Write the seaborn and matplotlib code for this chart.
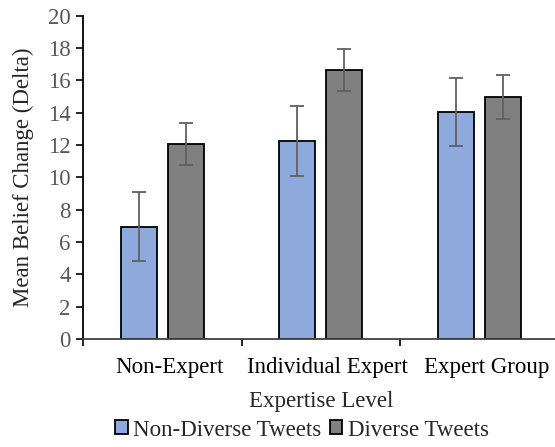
import numpy as np
import pandas as pd

import matplotlib
matplotlib.use("Agg")
import matplotlib.pyplot as plt
import matplotlib.transforms as mtransforms
import seaborn as sns

#####################################
### DATA
#####################################
levels = ["Non-Expert", "Individual Expert", "Expert Group"]
groups = ["Non-Diverse Tweets", "Diverse Tweets"]

non_diverse_mean = [6.95, 12.25, 14.05]
non_diverse_err = [2.15, 2.15, 2.12]
diverse_mean = [12.08, 16.65, 14.97]
diverse_err = [1.31, 1.30, 1.35]

y_ticks = [0, 2, 4, 6, 8, 10, 12, 14, 16, 18, 20]

df = pd.DataFrame({
    "Level": levels * 2,
    "Group": [groups[0]] * 3 + [groups[1]] * 3,
    "Delta": non_diverse_mean + diverse_mean,
})
errs = [non_diverse_err, diverse_err]

#####################################
### PLOT
#####################################
sns.set_style("white")
plt.rcParams["font.family"] = ["Liberation Serif", "DejaVu Serif"]

fs = 16.5
fig = plt.figure(figsize=(5.55, 4.47), dpi=100)
ax = fig.add_axes([83 / 555, 108 / 447, 475.5 / 555, 323.3 / 447])

sns.barplot(
    data=df, x="Level", y="Delta", hue="Group",
    order=levels, hue_order=groups,
    palette=["#8EA9DB", "#808080"], saturation=1,
    width=0.59, gap=0.23,
    edgecolor="black", linewidth=1.3,
    legend=False, ax=ax,
)

# error bars on top of each bar
for cont, err in zip(ax.containers, errs):
    xs = [p.get_x() + p.get_width() / 2 for p in cont.patches]
    hs = [p.get_height() for p in cont.patches]
    ax.errorbar(xs, hs, yerr=err, fmt="none", ecolor="#606060",
                elinewidth=1.3, capsize=4.7, capthick=1.3, zorder=5)

ax.set_xlim(-0.5, 2.5)
ax.set_ylim(0, 20)
ax.set_yticks(y_ticks)
ax.set_yticklabels([str(t) for t in y_ticks], color="#595959", fontsize=fs)

# ticks at group boundaries, labels at centres
ax.set_xticks([-0.5, 0.5, 1.5, 2.5])
ax.set_xticklabels([])
ax.set_xticks([0, 1, 2], minor=True)
ax.set_xticklabels(levels, minor=True, fontsize=fs, color="black")
ax.tick_params(axis="x", which="minor", length=0, pad=13)
ax.tick_params(axis="x", which="major", length=5, width=1.2, color="black", direction="out", bottom=True)
ax.tick_params(axis="y", length=5, width=1.2, color="black", direction="out", left=True, pad=4)

# Excel puts the category labels a little right of centre
shift = mtransforms.ScaledTranslation(7 / 100, 0, fig.dpi_scale_trans)
for lab in ax.get_xticklabels(minor=True):
    lab.set_transform(lab.get_transform() + shift)

for s in ["top", "right"]:
    ax.spines[s].set_visible(False)
ax.spines["left"].set_color("black")
ax.spines["left"].set_linewidth(1.3)
ax.spines["bottom"].set_color("#404040")
ax.spines["bottom"].set_linewidth(1.3)

ax.set_xlabel("Expertise Level", fontsize=fs, labelpad=9)
ax.set_ylabel("Mean Belief Change (Delta)", fontsize=fs, labelpad=10)

fig.legend(ax.containers, groups, loc="center", bbox_to_anchor=(302 / 555, 17 / 447),
           ncol=2, frameon=False, fontsize=fs, handlelength=0.55, handleheight=0.55,
           handletextpad=0.25, columnspacing=0.35, borderpad=0, borderaxespad=0)

fig.savefig("out.png", dpi=100)
plt.close()
